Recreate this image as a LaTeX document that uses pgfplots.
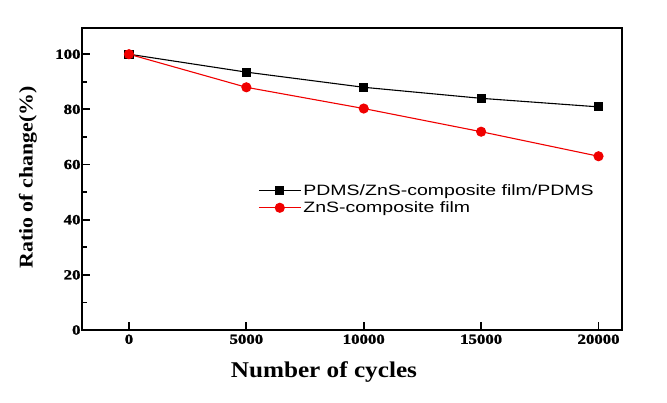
\documentclass[border=0pt]{standalone}
\usepackage{fontspec}
\usepackage{pgfplots}
\pgfplotsset{compat=1.18}
\setmainfont{Liberation Serif}
\newfontfamily\tickfont[FakeStretch=1.2,FakeBold=1.5]{Liberation Serif}
\newfontfamily\titlefont[FakeStretch=1.12]{Liberation Serif}
\newfontfamily\legfont[FakeStretch=1.3]{Liberation Sans}
\definecolor{myred}{RGB}{240,0,0}
\begin{document}
\begin{tikzpicture}
\useasboundingbox (-82pt,-72pt) rectangle (585pt,330pt);
\begin{axis}[
  at={(0,0)}, anchor=south west,
  scale only axis, width=540pt, height=302pt,
  xmin=-2000, xmax=21000, ymin=0, ymax=109.5,
  axis line style={line width=2.6pt},
  xtick={0,5000,10000,15000,20000},
  ytick={0,20,40,60,80,100},
  minor ytick={10,30,50,70,90},
  xtick pos=bottom, ytick pos=left,
  tick align=inside,
  major tick length=8pt, minor tick length=5pt,
  every tick/.style={black, line width=1.8pt},
  scaled x ticks=false,
  /pgf/number format/assume math mode=true,
  xticklabel={\pgfmathprintnumber[fixed,1000 sep={}]{\tick}},
  ticklabel style={font=\fontsize{14}{14}\tickfont\bfseries},
  yticklabel style={xshift=2pt},
  xticklabel style={yshift=-1pt},
  xlabel={Number of cycles},
  ylabel={Ratio of change(\%)},
  xlabel style={font=\fontsize{22.5}{24}\titlefont\bfseries, at={(axis description cs:0.448,-0.139)}, anchor=center},
  ylabel style={font=\fontsize{19.5}{22}\titlefont\bfseries, at={(axis description cs:-0.1,0.505)}, anchor=center},
  legend style={draw=none, fill=none, font=\fontsize{15}{16}\legfont,
    at={(axis description cs:0.326,0.49)}, anchor=north west,
    row sep=1pt, inner sep=0pt},
  legend cell align=left,
  legend image code/.code={\draw[mark repeat=2,mark phase=2] plot coordinates {(0pt,0pt) (21pt,0pt) (42pt,0pt)};},
]
\addplot[black, line width=1.1pt, mark=square*, mark size=4pt, mark options={solid}]
  coordinates {(0,100) (5000,93.5) (10000,88.0) (15000,84.0) (20000,80.9)};
\addlegendentry{PDMS/ZnS-composite film/PDMS}
\addplot[myred, line width=1.1pt, mark=*, mark size=4.5pt]
  coordinates {(0,100) (5000,88.0) (10000,80.3) (15000,71.9) (20000,63.0)};
\addlegendentry{ZnS-composite film}
\end{axis}
\end{tikzpicture}
\end{document}
